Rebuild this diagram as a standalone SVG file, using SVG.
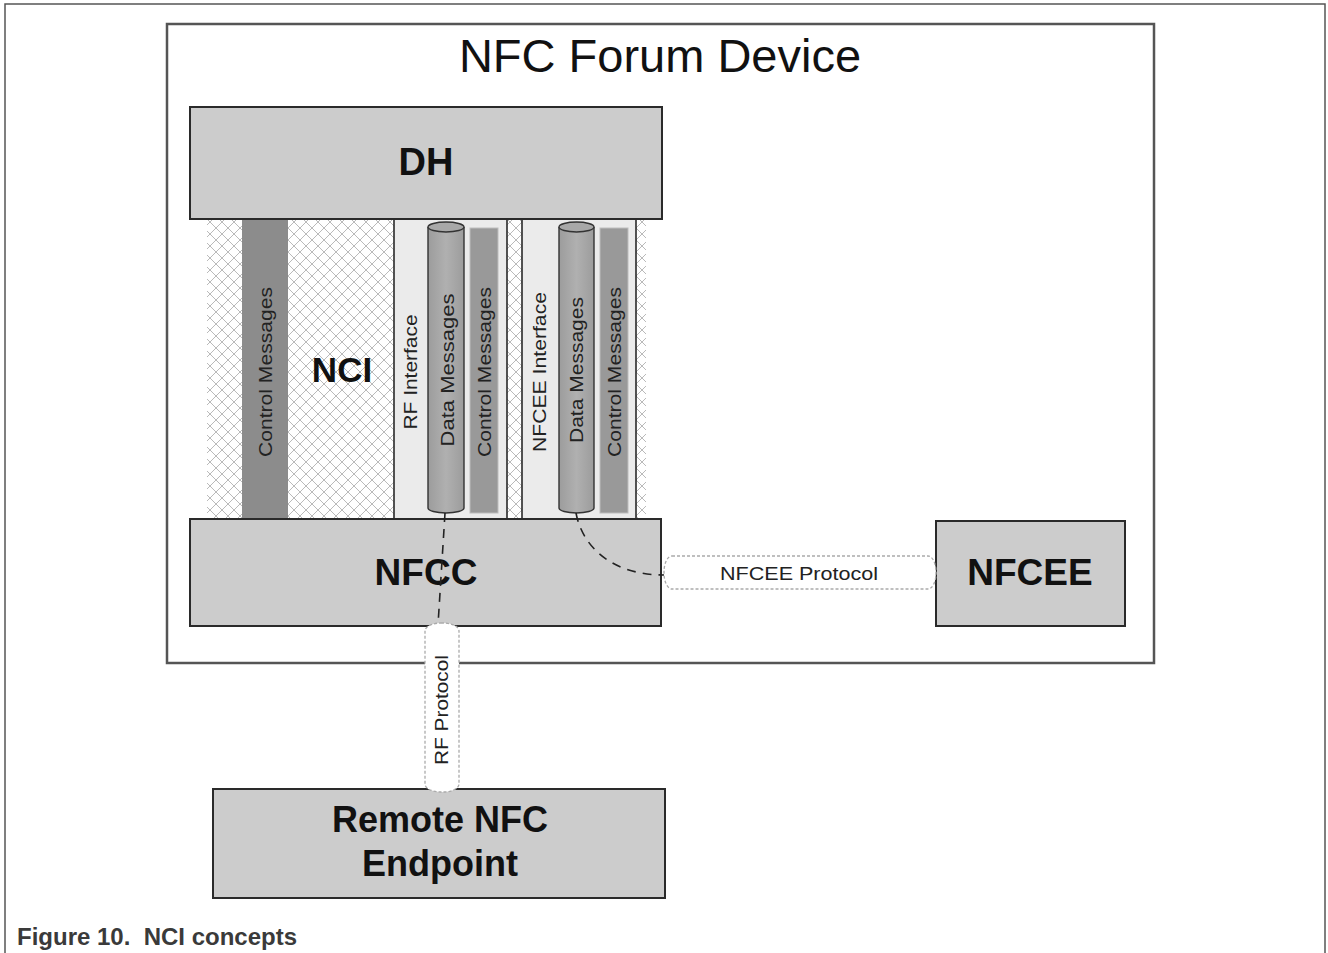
<svg xmlns="http://www.w3.org/2000/svg" width="1328" height="953" viewBox="0 0 1328 953">
<defs>
<pattern id="hatch" patternUnits="userSpaceOnUse" width="12" height="12">
<rect width="12" height="12" fill="#ffffff"/>
<path d="M0 0 L12 12 M0 12 L12 0" stroke="#a8a8a8" stroke-width="0.8" fill="none"/>
</pattern>
<linearGradient id="cyl" x1="0" y1="0" x2="1" y2="0">
<stop offset="0" stop-color="#9c9c9c"/>
<stop offset="0.5" stop-color="#b0b0b0"/>
<stop offset="1" stop-color="#9c9c9c"/>
</linearGradient>
</defs>
<style>
.box{fill:#cccccc;stroke:#2a2a2a;stroke-width:2}
.iface{fill:#ebebeb;stroke:#2a2a2a;stroke-width:1.6}
.ctrl{fill:#999999;stroke:#bdbdbd;stroke-width:1}
.ctrlnci{fill:#8c8c8c}
.cylb{fill:url(#cyl);stroke:#333;stroke-width:1.4}
.cylt{fill:#a8a8a8;stroke:#333;stroke-width:1.4}
.big{font-family:"Liberation Sans",Arial,sans-serif;font-weight:bold;fill:#111;text-anchor:middle}
.lab{font-family:"Liberation Sans",Arial,sans-serif;font-size:19px;fill:#222;text-anchor:middle}
.pill{fill:#ffffff;stroke:#aaaaaa;stroke-width:1.3;stroke-dasharray:3 2}
.conn{fill:none;stroke:#222;stroke-width:1.6;stroke-dasharray:9 7}
</style>
<rect x="5" y="4" width="1320" height="960" fill="#ffffff" stroke="#555" stroke-width="1.5"/>
<g id="nfc-forum-device">
<rect x="167" y="24" width="987" height="639" fill="#ffffff" stroke="#555" stroke-width="2.5"/>
<text x="660" y="72" font-family="Liberation Sans, Arial, sans-serif" font-size="47" fill="#111" text-anchor="middle">NFC Forum Device</text>
</g>
<g id="nci">
<rect x="207" y="219" width="439" height="300" fill="url(#hatch)"/>
<rect class="ctrlnci" x="242" y="219" width="46" height="300"/>
<text class="lab" transform="translate(265 372) rotate(-90)" dy="0.35em" textLength="170" lengthAdjust="spacingAndGlyphs">Control Messages</text>
<text class="big" x="342" y="382" font-size="35">NCI</text>
</g>
<g id="rf-interface">
<rect class="iface" x="394" y="219" width="113" height="300"/>
<text class="lab" transform="translate(410 372) rotate(-90)" dy="0.35em" textLength="115" lengthAdjust="spacingAndGlyphs">RF Interface</text>
<path class="cylb" d="M428 227 V508 A18 5 0 0 0 464 508 V227"/>
<ellipse class="cylt" cx="446" cy="227" rx="18" ry="5"/>
<text class="lab" transform="translate(447 370) rotate(-90)" dy="0.35em" textLength="153" lengthAdjust="spacingAndGlyphs">Data  Messages</text>
<rect class="ctrl" x="470" y="228" width="28" height="285"/>
<text class="lab" transform="translate(484 372) rotate(-90)" dy="0.35em" textLength="170" lengthAdjust="spacingAndGlyphs">Control Messages</text>
</g>
<g id="nfcee-interface">
<rect class="iface" x="522" y="219" width="114" height="300"/>
<text class="lab" transform="translate(539 372) rotate(-90)" dy="0.35em" textLength="160" lengthAdjust="spacingAndGlyphs">NFCEE Interface</text>
<path class="cylb" d="M559 227 V508 A17.5 5 0 0 0 594 508 V227"/>
<ellipse class="cylt" cx="576.5" cy="227" rx="17.5" ry="5"/>
<text class="lab" transform="translate(576 370) rotate(-90)" dy="0.35em" textLength="146" lengthAdjust="spacingAndGlyphs">Data Messages</text>
<rect class="ctrl" x="600" y="228" width="28" height="285"/>
<text class="lab" transform="translate(614 372) rotate(-90)" dy="0.35em" textLength="170" lengthAdjust="spacingAndGlyphs">Control Messages</text>
</g>
<g id="dh">
<rect class="box" x="190" y="107" width="472" height="112"/>
<text class="big" x="426" y="175" font-size="38">DH</text>
</g>
<g id="nfcc">
<rect class="box" x="190" y="519" width="471" height="107"/>
<text class="big" x="426" y="585" font-size="37">NFCC</text>
</g>
<g id="nfcee">
<rect class="box" x="936" y="521" width="189" height="105"/>
<text class="big" x="1030" y="585" font-size="37">NFCEE</text>
</g>
<g id="remote-nfc-endpoint">
<rect class="box" x="213" y="789" width="452" height="109"/>
<text class="big" x="440" y="832" font-size="36">Remote NFC</text>
<text class="big" x="440" y="876" font-size="36">Endpoint</text>
</g>
<g id="connectors">
<path class="conn" d="M445 513 L438 625"/>
<path class="conn" d="M576 513 C582 545 610 575 664 575"/>
<g id="nfcee-protocol">
<rect class="pill" x="664" y="556" width="272" height="33" rx="8" ry="16"/>
<text class="lab" x="799" y="580" textLength="158" lengthAdjust="spacingAndGlyphs">NFCEE Protocol</text>
</g>
<g id="rf-protocol">
<rect class="pill" x="425" y="623" width="34" height="169" rx="16" ry="8"/>
<text class="lab" transform="translate(441 710) rotate(-90)" dy="0.35em" textLength="110" lengthAdjust="spacingAndGlyphs">RF Protocol</text>
</g>
</g>
<text x="17" y="945" font-family="Liberation Sans, Arial, sans-serif" font-size="24" font-weight="bold" fill="#3a3a3a" style="white-space:pre">Figure 10.  NCI concepts</text>
</svg>
